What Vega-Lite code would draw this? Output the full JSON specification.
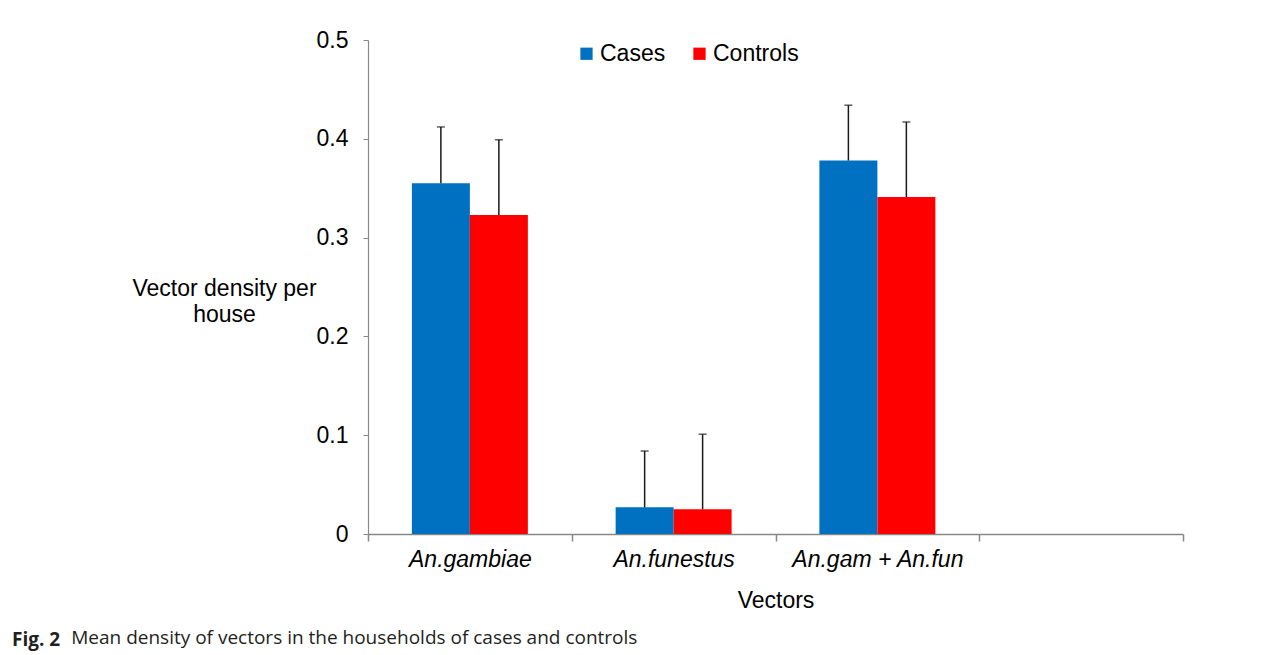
{
  "$schema": "https://vega.github.io/schema/vega-lite/v6.json",
  "width": 815,
  "height": 494,
  "autosize": {"type": "none"},
  "padding": {"left": 368, "top": 40, "right": 104, "bottom": 121},
  "background": "white",
  "title": {
    "text": "Fig. 2",
    "subtitle": "\u200b\u00a0\u00a0\u00a0\u00a0\u00a0\u00a0\u00a0\u00a0\u00a0\u00a0\u00a0\u00a0Mean density of vectors in the households of cases and controls",
    "orient": "bottom",
    "anchor": "start",
    "frame": "group",
    "dx": -356,
    "offset": 19,
    "font": "Open Sans",
    "fontSize": 19,
    "fontWeight": "bold",
    "color": "#231f20",
    "subtitleFont": "Open Sans",
    "subtitleFontSize": 19,
    "subtitleColor": "#231f20",
    "subtitlePadding": -21
  },
  "data": {
    "values": [
      {"vector": "An.gambiae", "group": "Cases", "mean": 0.355, "upper": 0.412},
      {"vector": "An.gambiae", "group": "Controls", "mean": 0.323, "upper": 0.399},
      {"vector": "An.funestus", "group": "Cases", "mean": 0.027, "upper": 0.084},
      {"vector": "An.funestus", "group": "Controls", "mean": 0.025, "upper": 0.101},
      {"vector": "An.gam + An.fun", "group": "Cases", "mean": 0.378, "upper": 0.434},
      {"vector": "An.gam + An.fun", "group": "Controls", "mean": 0.341, "upper": 0.417}
    ]
  },
  "encoding": {
    "x": {
      "field": "vector",
      "type": "nominal",
      "sort": null,
      "scale": {"domain": ["An.gambiae", "An.funestus", "An.gam + An.fun", " "], "paddingInner": 0, "paddingOuter": 0},
      "axis": {
        "title": "Vectors",
        "labelAngle": 0,
        "labelFont": "Liberation Sans",
        "labelFontSize": 23,
        "labelFontStyle": "italic",
        "labelColor": "#000000",
        "labelPadding": 7,
        "tickBand": "extent",
        "tickSize": 7,
        "tickColor": "#888888",
        "tickWidth": 1.5,
        "domainColor": "#888888",
        "domainWidth": 1.5,
        "titleFont": "Liberation Sans",
        "titleFontSize": 23,
        "titleFontWeight": "normal",
        "titleColor": "#000000",
        "titlePadding": 18
      }
    },
    "xOffset": {
      "field": "group",
      "type": "nominal",
      "scale": {"paddingInner": 0, "paddingOuter": 0.757}
    }
  },
  "layer": [
    {
      "mark": {"type": "bar"},
      "encoding": {
        "y": {
          "field": "mean",
          "type": "quantitative",
          "scale": {"domain": [0, 0.5], "nice": false},
          "axis": {
            "values": [0, 0.1, 0.2, 0.3, 0.4, 0.5],
            "format": "~g",
            "grid": false,
            "labelFont": "Liberation Sans",
            "labelFontSize": 23,
            "labelColor": "#000000",
            "labelPadding": 15,
            "tickSize": 5,
            "tickColor": "#888888",
            "domainColor": "#888888",
            "domainWidth": 1.2,
            "title": ["Vector density per", "house"],
            "titleAngle": 0,
            "titleAlign": "center",
            "titleBaseline": "top",
            "titleX": -144,
            "titleY": 237,
            "titleFont": "Liberation Sans",
            "titleFontSize": 23,
            "titleFontWeight": "normal",
            "titleColor": "#000000",
            "titleLineHeight": 26
          }
        },
        "color": {
          "field": "group",
          "type": "nominal",
          "scale": {"domain": ["Cases", "Controls"], "range": ["#0070C0", "#FF0000"]},
          "legend": {
            "title": null,
            "orient": "none",
            "direction": "horizontal",
            "legendX": 207,
            "legendY": 2,
            "symbolType": "square",
            "symbolSize": 150,
            "symbolStrokeWidth": 0,
            "labelFont": "Liberation Sans",
            "labelFontSize": 23,
            "labelColor": "#000000",
            "labelOffset": 2,
            "columnPadding": 22
          }
        }
      }
    },
    {
      "mark": {"type": "rule", "color": "#1a1a1a", "strokeWidth": 1.5},
      "encoding": {
        "y": {"field": "mean", "type": "quantitative"},
        "y2": {"field": "upper"}
      }
    },
    {
      "mark": {"type": "tick", "color": "#1a1a1a", "size": 8, "thickness": 1.5},
      "encoding": {
        "y": {"field": "upper", "type": "quantitative"}
      }
    }
  ],
  "config": {"view": {"stroke": null}}
}
